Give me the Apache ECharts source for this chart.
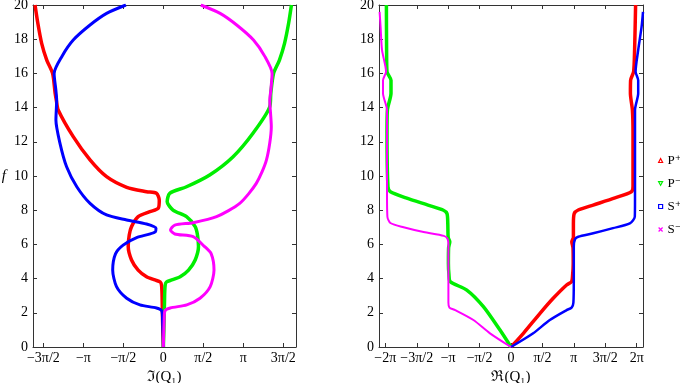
<!DOCTYPE html>
<html lang="en">
<head>
    <meta charset="UTF-8">
    <title>Q1 branches</title>
    <script src="https://cdn.jsdelivr.net/npm/echarts@6/dist/echarts.min.js"></script>
    <style>
        html, body { margin: 0; padding: 0; background: #fff; }
        #chart { width: 680px; height: 383px; }
    </style>
</head>
<body>
<div id="chart"></div>
<script>
    // tick positions (multiples of pi/2) and their labels
    var PI = Math.PI;
    var imTickValues = [-3 * PI / 2, -PI, -PI / 2, 0, PI / 2, PI, 3 * PI / 2];
    var imTickLabels = ['\u22123\u03c0/2', '\u2212\u03c0', '\u2212\u03c0/2', '0', '\u03c0/2', '\u03c0', '3\u03c0/2'];
    var reTickValues = [-2 * PI, -3 * PI / 2, -PI, -PI / 2, 0, PI / 2, PI, 3 * PI / 2, 2 * PI];
    var reTickLabels = ['\u22122\u03c0', '\u22123\u03c0/2', '\u2212\u03c0', '\u2212\u03c0/2', '0', '\u03c0/2', '\u03c0', '3\u03c0/2', '2\u03c0'];

    var seriesNames = ['P\u207a', 'P\u207b', 'S\u207a', 'S\u207b'];
    var seriesColors = ['#ff0000', '#00ee00', '#0000ff', '#ff00ff'];

    // left panel: Im(Q1) vs f
    var imPplus = [[0, 0], [-0.03, 1.5], [-0.05, 3.0], [-0.07, 3.6], [-0.12, 3.8], [-0.33, 3.92], [-0.66, 4.11],
        [-0.99, 4.5], [-1.25, 5.09], [-1.38, 5.87], [-1.34, 6.55], [-1.25, 7.04], [-0.99, 7.62], [-0.53, 7.91],
        [-0.2, 8.11], [-0.16, 8.6], [-0.27, 8.99], [-0.66, 9.08], [-1.44, 9.34], [-2.23, 9.96], [-2.88, 10.94],
        [-3.54, 12.3], [-4.13, 13.86], [-4.2, 14.4], [-4.25, 14.84], [-4.35, 16.0], [-4.58, 16.78],
        [-4.78, 17.76], [-4.93, 18.93], [-5.04, 20]];
    var imPminus = [[0, 0], [0.03, 1.5], [0.05, 3.0], [0.07, 3.6], [0.12, 3.8], [0.33, 3.92], [0.66, 4.11],
        [0.99, 4.5], [1.25, 5.09], [1.38, 5.87], [1.34, 6.55], [1.25, 7.04], [0.91, 7.62], [0.38, 8.01],
        [0.15, 8.5], [0.25, 8.99], [0.91, 9.37], [1.82, 10.06], [2.74, 11.13], [3.52, 12.5], [4.18, 14.05],
        [4.22, 14.84], [4.33, 16.0], [4.56, 16.78], [4.76, 17.76], [4.92, 18.93], [5.03, 20]];
    var imSplus = [[0, 0], [-0.03, 1.5], [-0.06, 2.1], [-0.27, 2.28], [-0.92, 2.46], [-1.44, 2.85], [-1.84, 3.53],
        [-1.99, 4.5], [-1.88, 5.45], [-1.58, 5.96], [-1.05, 6.4], [-0.55, 6.6], [-0.31, 6.74], [-0.29, 6.94],
        [-0.66, 7.19], [-1.44, 7.43], [-2.23, 7.72], [-2.88, 8.4], [-3.4, 9.37], [-3.8, 10.54], [-4.06, 11.91],
        [-4.22, 13.27], [-4.19, 14.44], [-4.22, 15.0], [-4.29, 16.0], [-3.99, 16.98], [-3.54, 17.95],
        [-2.88, 18.83], [-2.23, 19.51], [-1.47, 20]];
    var imSminus = [[0, 0], [0.03, 1.5], [0.06, 2.1], [0.27, 2.28], [0.92, 2.46], [1.44, 2.85], [1.84, 3.53],
        [1.99, 4.5], [1.88, 5.45], [1.6, 5.9], [1.17, 6.45], [0.45, 6.61], [0.28, 6.84], [0.45, 7.13],
        [1.17, 7.27], [2.09, 7.62], [3.0, 8.4], [3.65, 9.57], [4.05, 10.94], [4.24, 12.88], [4.18, 14.44],
        [4.22, 15.0], [4.27, 16.0], [3.99, 16.98], [3.54, 17.95], [2.88, 18.83], [2.23, 19.51], [1.47, 20]];

    // right panel: Re(Q1) vs f
    var rePplus = [[0, 0], [0.62, 0.8], [1.45, 1.97], [2.11, 2.85], [2.78, 3.63], [3.03, 3.82], [3.08, 4.2],
        [3.11, 4.89], [3.1, 5.8], [3.04, 6.16], [3.12, 6.4], [3.12, 7.2], [3.16, 7.8], [3.36, 8.01],
        [4.11, 8.3], [5.2, 8.72], [6.02, 9.08], [6.1, 9.4], [6.1, 12.5], [6.07, 13.86], [5.97, 14.84],
        [5.98, 15.6], [6.13, 16.1], [6.18, 17.37], [6.23, 20]];
    var rePminus = [[0, 0], [-0.55, 0.99], [-1.38, 2.36], [-2.21, 3.33], [-3.04, 3.82], [-3.1, 4.2],
        [-3.13, 4.89], [-3.12, 5.8], [-3.06, 6.16], [-3.14, 6.4], [-3.16, 7.2], [-3.2, 7.8], [-3.4, 8.01],
        [-4.15, 8.3], [-5.25, 8.72], [-6.03, 9.08], [-6.15, 9.37], [-6.2, 12.5], [-6.18, 13.86],
        [-6.0, 14.84], [-6.0, 15.6], [-6.2, 16.1], [-6.22, 17.37], [-6.23, 20]];
    var reSplus = [[0, 0], [1.11, 0.8], [1.94, 1.58], [2.78, 2.16], [3.03, 2.3], [3.12, 2.6], [3.14, 3.92],
        [3.14, 5.87], [3.2, 6.3], [3.36, 6.45], [4.11, 6.65], [5.1, 6.95], [5.94, 7.23], [6.19, 7.62],
        [6.2, 8.6], [6.2, 13.86], [6.36, 14.84], [6.36, 15.6], [6.23, 16.1], [6.36, 17.37], [6.53, 18.73],
        [6.6, 19.6]];
    var reSminus = [[0, 0], [-1.05, 0.8], [-1.88, 1.58], [-2.79, 2.16], [-3.08, 2.3], [-3.13, 2.6], [-3.13, 4],
        [-3.13, 6.0], [-3.18, 6.35], [-3.36, 6.5], [-4.37, 6.72], [-5.37, 7.0], [-6.03, 7.25], [-6.18, 7.62],
        [-6.2, 9], [-6.2, 13.86], [-6.4, 14.84], [-6.4, 15.6], [-6.25, 16.1], [-6.45, 17.37], [-6.52, 18.7],
        [-6.57, 19.6]];

    var font = '"Liberation Serif", "DejaVu Serif", serif';
    var axisColor = '#333';

    function labelFor(values, labels) {
        return function (v) {
            for (var i = 0; i < values.length; i++) {
                if (Math.abs(values[i] - v) < 1e-6) return labels[i];
            }
            return '';
        };
    }

    function xAxisFor(grid, min, max, values, labels, name, top) {
        return {
            type: 'value', gridIndex: grid, min: min, max: max,
            position: top ? 'top' : 'bottom',
            name: top ? '' : name, nameLocation: 'middle', nameGap: 18,
            nameTextStyle: {fontFamily: font, fontSize: 15, color: '#000'},
            axisLine: {show: true, onZero: false, lineStyle: {color: axisColor, width: 1}},
            axisTick: {show: true, inside: true, length: 4, customValues: values, lineStyle: {color: axisColor}},
            axisLabel: {show: !top, customValues: values, formatter: labelFor(values, labels),
                margin: 4, fontFamily: font, fontSize: 14, color: '#000'},
            splitLine: {show: false}
        };
    }

    function yAxisFor(grid, right, name) {
        return {
            type: 'value', gridIndex: grid, min: 0, max: 20, interval: 2,
            position: right ? 'right' : 'left',
            name: name || '', nameLocation: 'middle', nameRotate: 0, nameGap: 27,
            nameTextStyle: {fontFamily: font, fontSize: 15, fontStyle: 'italic', color: '#000'},
            axisLine: {show: true, onZero: false, lineStyle: {color: axisColor, width: 1}},
            axisTick: {show: true, inside: true, length: 4, lineStyle: {color: axisColor}},
            axisLabel: {show: !right, margin: 5, fontFamily: font, fontSize: 14, color: '#000'},
            splitLine: {show: false}
        };
    }

    function lineSeries(idx, data, xi, yi, width) {
        return {
            name: seriesNames[idx], type: 'line', data: data,
            xAxisIndex: xi, yAxisIndex: yi,
            showSymbol: false, symbol: 'none', smooth: 0.25,
            lineStyle: {color: seriesColors[idx], width: width},
            itemStyle: {color: seriesColors[idx]},
            clip: true
        };
    }

    var legendIcons = ['triangle', 'path://M0,0 L10,0 L5,9 Z', 'rect', 'path://M0,0 L10,10 M10,0 L0,10'];

    var chart = echarts.init(document.getElementById('chart'));
    var option = {
        animation: false,
        grid: [
            {left: 33, top: 5, width: 263, height: 342, outerBoundsMode: 'none', containLabel: false},
            {left: 379, top: 5, width: 264, height: 342, outerBoundsMode: 'none', containLabel: false}
        ],
        xAxis: [
            xAxisFor(0, -5.12, 5.21, imTickValues, imTickLabels, '\u2111(Q\u2081)', false),
            xAxisFor(0, -5.12, 5.21, imTickValues, imTickLabels, '', true),
            xAxisFor(1, -6.6, 6.6, reTickValues, reTickLabels, '\u211c(Q\u2081)', false),
            xAxisFor(1, -6.6, 6.6, reTickValues, reTickLabels, '', true)
        ],
        yAxis: [
            yAxisFor(0, false, 'f'),
            yAxisFor(0, true),
            yAxisFor(1, false),
            yAxisFor(1, true)
        ],
        legend: {
            orient: 'vertical', left: 653, top: 149, itemWidth: 4, itemHeight: 4, itemGap: 10,
            textStyle: {fontFamily: font, fontSize: 13, color: '#000'},
            data: seriesNames.map(function (n, i) {
                return {
                    name: n, icon: legendIcons[i],
                    itemStyle: {color: 'transparent', borderColor: seriesColors[i], borderWidth: 1.2}
                };
            })
        },
        series: [
            lineSeries(0, imPplus, 0, 0, 3.5),
            lineSeries(1, imPminus, 0, 0, 3.5),
            lineSeries(2, imSplus, 0, 0, 3),
            lineSeries(3, imSminus, 0, 0, 3),
            lineSeries(0, rePplus, 2, 2, 3.5),
            lineSeries(1, rePminus, 2, 2, 3.5),
            lineSeries(2, reSplus, 2, 2, 2.5),
            lineSeries(3, reSminus, 2, 2, 2)
        ]
    };
    chart.setOption(option);
</script>
</body>
</html>
